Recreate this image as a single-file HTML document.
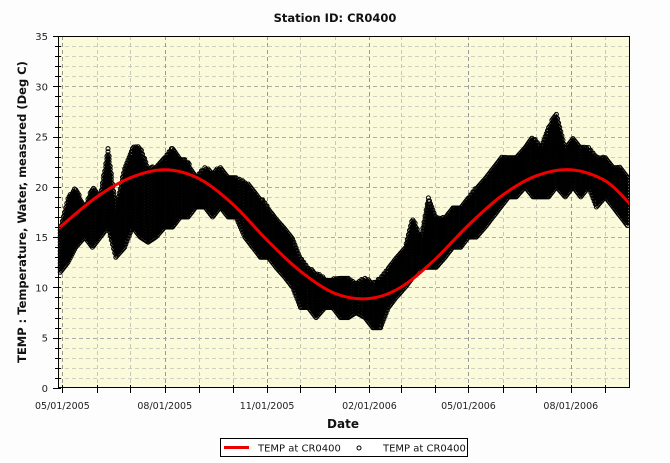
<!DOCTYPE html>
<html><head><meta charset="utf-8"><style>
body{margin:0;background:#fff;}
svg{display:block;font-family:"DejaVu Sans","Liberation Sans",sans-serif;}
</style></head><body>
<svg id="chart" width="670" height="463" xmlns="http://www.w3.org/2000/svg">
<rect x="0" y="0" width="670" height="463" fill="#fdfdfd"/>
<text x="335" y="22" text-anchor="middle" font-size="11.5" font-weight="bold" fill="#111">Station ID: CR0400</text>
<rect x="58" y="36" width="572" height="352" fill="#fbfbdc"/>
<g id="grid"></g>
<g id="points"></g>
<g id="fit"></g>
<g id="axes"></g>
<text x="26" y="212" transform="rotate(-90 26 212)" text-anchor="middle" font-size="11.5" font-weight="bold" fill="#111">TEMP : Temperature, Water, measured (Deg C)</text>
<text x="343" y="428" text-anchor="middle" font-size="12" font-weight="bold" fill="#111">Date</text>
<g>
<rect x="220.5" y="438.5" width="247" height="18" fill="#fff" stroke="#000"/>
<line x1="224" y1="447.5" x2="249" y2="447.5" stroke="#e00" stroke-width="3"/>
<text x="258" y="451.5" font-size="10" fill="#111">TEMP at CR0400</text>
<circle cx="359" cy="448" r="2" fill="none" stroke="#000"/>
<text x="383" y="451.5" font-size="10" fill="#111">TEMP at CR0400</text>
</g>
</svg>
<script>
// ---- data ----
const yTicks = [0,5,10,15,20,25,30,35];
const xTickDays = [0,92,184,276,365,457];
const xTickLabels = ["05/01/2005","08/01/2005","11/01/2005","02/01/2006","05/01/2006","08/01/2006"];
const monthDays = [0,31,61,92,123,153,184,214,245,276,304,335,365,396,426,457,488];
const weekDays = [-2,5,12,20,27,34,41,48,56,63,70,77,84,92,99,106,113,120,128,135,142,149,156,164,171,178,185,192,200,207,214,221,228,236,243,250,257,264,272,279,286,293,300,308,315,322,329,336,344,351,358,365,372,380,387,394,401,408,416,423,430,437,444,452,459,466,473,480,488,495,502,509];
const weekLow = [11.5,12.5,14,15,14,15,16,13,14,16,15,14.5,15,16,16,17,17,18,18,17,18,17,17,15,14,13,13,12,11,10,8,8,7,8,8,7,7,7.5,7,6,6,8,9,10,11,12,12,12,13,14,14,15,15,16,17,18,19,19,20,19,19,19,20,19,20,19,20,18,19,18,17,16];
const weekHigh = [16,19,20,18,20,19,24,18,22,24,24,22,22,23,24,23,22.5,21,22,21.5,22,21,21,20.5,20,19,18,17,16,15,13,12,11.5,11,11,11,11,10.5,11,10.5,11,12,13,14,17,15,19,17,17,18,18,19,20,21,22,23,23,23,24,25,24,26,27.5,24,25,24,24,23,23,22,22,21];
const fitDays = [-4,0,31,61,92,123,153,184,214,245,276,304,335,365,396,426,457,488,511];
const fitVals = [15.8,16.2,19.0,20.9,21.7,20.8,18.3,14.7,11.6,9.4,8.9,10.0,12.8,16.2,19.2,21.1,21.7,20.6,18.2];

// ---- scales ----
const X0=58,X1=630,Y0=388,Y1=36;
function xs(d){return 62.4 + d*1.1125;}
function ys(v){return Y0 - (v/35)*(Y0-Y1);}
const NS="http://www.w3.org/2000/svg";
function mk(tag,attrs,parent){const e=document.createElementNS(NS,tag);for(const k in attrs)e.setAttribute(k,attrs[k]);parent.appendChild(e);return e;}

// grid
const grid=document.getElementById('grid');
for(let v=1;v<35;v++){
  const y=Math.round(ys(v))+0.5;
  const major=v%5===0;
  const l=mk('line',{x1:X0,x2:X1,y1:y,y2:y,stroke:major?'#aaa':'#d0d0c0','stroke-dasharray':'4,3'},grid);
  
  
}
monthDays.forEach(d=>{
  const x=Math.round(xs(d))+0.5;
  const major=xTickDays.includes(d);
  const l=mk('line',{x1:x,x2:x,y1:Y1,y2:Y0,stroke:major?'#999':'#c8c8b8','stroke-dasharray':'4,3'},grid);
  
  
});

// points
const pts=document.getElementById('points');
const n=Math.min(weekDays.length,weekLow.length,weekHigh.length);
for(let i=0;i<n;i++){
  const nx=Math.min(i+1,n-1);
  const span=Math.max(1,weekDays[nx]-weekDays[i]);
  for(let j=0;j<span;j++){
    const d=weekDays[i]+j;
    const x=xs(d);
    if(x<X0+2||x>X1-2) continue;
    const t=j/span;
    const lo=weekLow[i]+(weekLow[nx]-weekLow[i])*t;
    const hi=weekHigh[i]+(weekHigh[nx]-weekHigh[i])*t;
    for(let v=lo; v<=hi; v+=0.3){
      const c=mk('circle',{cx:x.toFixed(1),cy:ys(v).toFixed(1),r:2,fill:'none',stroke:'#000','stroke-width':1},pts);
      
      
    }
  }
}

// fit curve (catmull-rom)
const P=fitDays.map((d,i)=>[xs(d),ys(fitVals[i])]);
let dstr=`M${P[0][0].toFixed(1)},${P[0][1].toFixed(1)}`;
for(let i=0;i<P.length-1;i++){
  const p0=P[i-1]||P[i],p1=P[i],p2=P[i+1],p3=P[i+2]||P[i+1];
  const c1=[p1[0]+(p2[0]-p0[0])/6,p1[1]+(p2[1]-p0[1])/6];
  const c2=[p2[0]-(p3[0]-p1[0])/6,p2[1]-(p3[1]-p1[1])/6];
  dstr+=` C${c1[0].toFixed(1)},${c1[1].toFixed(1)} ${c2[0].toFixed(1)},${c2[1].toFixed(1)} ${p2[0].toFixed(1)},${p2[1].toFixed(1)}`;
}
const fit=document.getElementById('fit');
const cp=mk('clipPath',{id:'clip'},fit);mk('rect',{x:X0,y:Y1,width:X1-X0,height:Y0-Y1},cp);
const fp=mk('path',{d:dstr,fill:'none',stroke:'#e00',"stroke-width":3,'clip-path':'url(#clip)'},fit);



// axes
const ax=document.getElementById('axes');
const frame=mk('rect',{x:X0+0.5,y:Y1+0.5,width:X1-X0-1,height:Y0-Y1-1,fill:'none',stroke:'#000'},ax);


for(let v=0;v<=35;v++){
  const y=Math.round(ys(v))+0.5;
  const major=v%5===0;
  mk('line',{x1:major?X0-5:X0-3,x2:X0+3,y1:y,y2:y,stroke:'#000'},ax);
}
yTicks.forEach(v=>{
  const t=mk('text',{x:X0-10,y:ys(v)+4,'text-anchor':'end','font-size':10,fill:'#222'},ax);
  t.textContent=v;
  
  
});
monthDays.forEach(d=>{
  const x=Math.round(xs(d))+0.5;
  mk('line',{x1:x,x2:x,y1:Y0-3,y2:Y0+5,stroke:'#000'},ax);
});
xTickDays.forEach((d,i)=>{
  const t=mk('text',{x:xs(d),y:409,'text-anchor':'middle','font-size':9.5,fill:'#222'},ax);
  t.textContent=xTickLabels[i];
  
  
});
</script>
</body></html>
